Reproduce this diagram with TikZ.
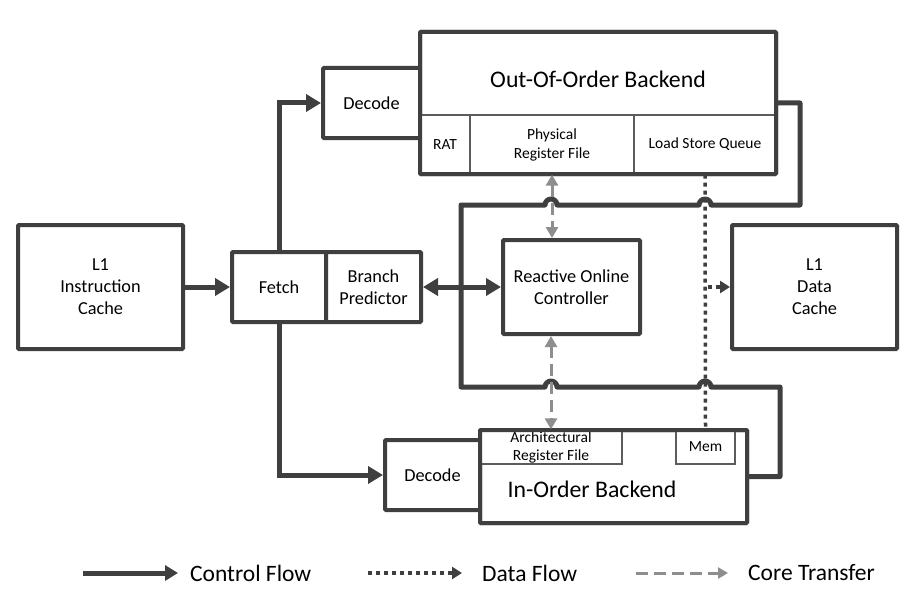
\documentclass[tikz,border=0pt]{standalone}
\usepackage{fontspec}
\setmainfont{Carlito}
\usepackage{tikz}
\usetikzlibrary{arrows.meta,positioning}
\definecolor{dkGray}{HTML}{3F3F3F}
\definecolor{mdGray}{HTML}{8E8E8E}
\definecolor{lnGray}{HTML}{9A9A9A}
\tikzset{
  blk/.style={draw=dkGray,line width=4pt,fill=white,align=center,inner sep=0pt,rounded corners=1pt,font=\fontsize{18.3}{22}\selectfont},
  cell/.style={draw=dkGray!85,line width=1.3pt,fill=white,align=center,inner sep=0pt,font=\fontsize{15.5}{19}\selectfont},
  ttl/.style={font=\fontsize{23.8}{28}\selectfont,inner sep=0pt},
  ctrl/.style={draw=dkGray,line width=5pt,-{Triangle[length=15pt,width=17pt]}},
  ctrlpath/.style={draw=dkGray,line width=5pt,line join=round},
  dataflow/.style={draw=dkGray,line width=3.5pt,dash pattern=on 4pt off 4pt},
  coretr/.style={draw=mdGray,line width=3pt,dash pattern=on 12pt off 6pt,{Triangle[length=11pt,width=12pt]}-{Triangle[length=11pt,width=12pt]}},
  lgd/.style={font=\fontsize{23.5}{27}\selectfont,anchor=west,inner sep=0pt}
}
\begin{document}
\begin{tikzpicture}[x=1pt,y=-1pt]
\useasboundingbox (0,0) rectangle (912,591);
% blocks
\node[blk,minimum width=165pt,minimum height=124pt] (icache) at (100.5,287) {L1\\Instruction\\Cache};
\node[blk,minimum width=94pt,minimum height=70pt] (fetch) at (279,287) {Fetch};
\node[blk,minimum width=95pt,minimum height=70pt] (bpred) at (373.5,287) {Branch\\Predictor};
\node[blk,minimum width=97pt,minimum height=70pt] (dectop) at (371.5,103) {Decode};
\node[blk,minimum width=95pt,minimum height=70pt] (decbot) at (432.5,475) {Decode};
\node[blk,minimum width=137pt,minimum height=94pt] (roc) at (571.5,287) {Reactive Online\\Controller};
\node[blk,minimum width=165pt,minimum height=124pt] (dcache) at (814.5,287) {L1\\Data\\Cache};
% out-of-order backend
\node[blk,minimum width=356pt,minimum height=142pt] (ooo) at (598,103) {};
\node[cell,minimum width=50pt,minimum height=59pt] (rat) at (445,144.5) {RAT};
\node[cell,minimum width=164pt,minimum height=59pt] (prf) at (552,144.5) {Physical\\Register File};
\node[cell,minimum width=142pt,minimum height=59pt] (lsq) at (705,144.5) {Load Store Queue};
\node[blk,fill=none,minimum width=356pt,minimum height=142pt] at (ooo) {};
\node[ttl] (oootxt) at (598,79) {Out-Of-Order Backend};
% in-order backend
\node[blk,minimum width=267pt,minimum height=93pt] (ioo) at (613.5,476.5) {};
\node[cell,minimum width=142pt,minimum height=34pt,font=\fontsize{15.5}{18}\selectfont] (arf) at (551,447) {Architectural\\Register File};
\node[cell,minimum width=59pt,minimum height=34pt] (mem) at (705.5,447) {Mem};
\node[blk,fill=none,minimum width=267pt,minimum height=93pt] at (ioo) {};
\node[ttl] (iootxt) at (592,489) {In-Order Backend};
% control flow
\draw[ctrl] (icache) -- (fetch);
\draw[ctrl] (fetch.north) |- (dectop.west);
\draw[ctrl] (fetch.south) |- (decbot.west);
\draw[ctrl,{Triangle[length=15pt,width=17pt]}-{Triangle[length=15pt,width=17pt]}] (bpred) -- (roc);
\draw[ctrlpath] (ooo.east) -- (800,103) -- (800,205) -- (711,205) arc[start angle=0,end angle=-180,radius=6]
  -- (557,205) arc[start angle=0,end angle=-180,radius=6] -- (461,205) -- (461,387)
  -- (545,387) arc[start angle=180,end angle=360,radius=6] -- (699,387) arc[start angle=180,end angle=360,radius=6]
  -- (780,387) -- (780,476.5) -- (ioo.east);
% data flow
\draw[dataflow] (lsq.south) -- (mem.north);
\draw[dataflow,-{Triangle[length=10pt,width=12pt]}] ([xshift=3pt]lsq.south |- dcache.west) -- (dcache.west);
% core transfer
\draw[coretr] (prf.south) -- (prf.south |- roc.north);
\draw[coretr] (arf.north |- roc.south) -- (arf.north);
% legend
\coordinate (lgA) at (83,573); \coordinate (lgB) at (178,573);
\coordinate (lgC) at (368,573); \coordinate (lgD) at (462,573);
\coordinate (lgE) at (636,573); \coordinate (lgF) at (728,573);
\draw[ctrl,-{Triangle[length=13pt,width=15pt]}] (lgA) -- (lgB);
\draw[dataflow,-{Triangle[length=10pt,width=12pt]}] (lgC) -- (lgD);
\draw[coretr,{}-{Triangle[length=10pt,width=11pt]}] (lgE) -- (lgF);
\node[lgd] (lgctrl) at (190,573) {Control Flow};
\node[lgd] (lgdata) at (482,573) {Data Flow};
\node[lgd] (lgcore) at (748,573) {Core Transfer};
\end{tikzpicture}
\end{document}
